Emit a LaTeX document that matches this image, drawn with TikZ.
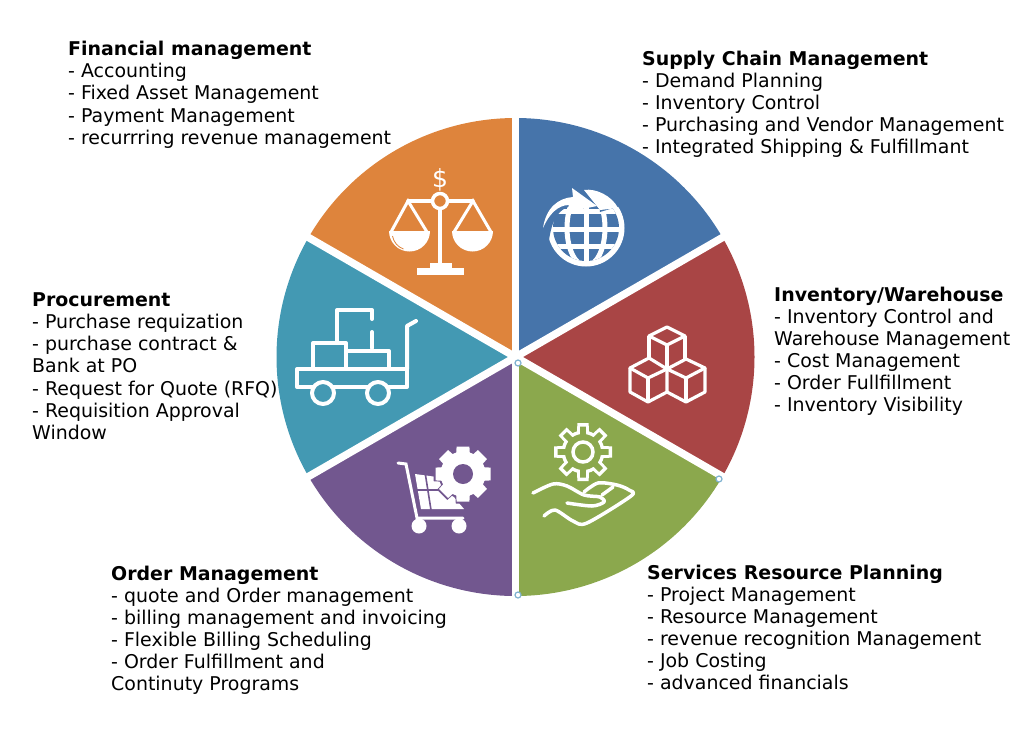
\documentclass[tikz,border=0pt]{standalone}
\usepackage{fontspec}
\setmainfont{DejaVu Sans}
\usepackage{xcolor}
\definecolor{pieorange}{HTML}{DE843C}
\definecolor{pieblue}{HTML}{4674AA}
\definecolor{piered}{HTML}{A94545}
\definecolor{piegreen}{HTML}{8BA84D}
\definecolor{piepurple}{HTML}{72578F}
\definecolor{pieteal}{HTML}{4399B3}
\definecolor{handleblue}{HTML}{7FB2D0}
\tikzset{
  listbox/.style={anchor=north west,align=left,inner sep=0pt,text=black,font=\fontsize{18.95}{22.15}\selectfont},
  iconline/.style={draw=white,line width=4pt,line join=round,line cap=round},
  handle/.style={draw=handleblue,fill=white,line width=1.2pt},
}
% centre, outer radius, tooth half width, body radius, colour
\newcommand{\gearfill}[5]{
  \fill[#5] #1 circle (#4);
  \foreach \a in {0,45,...,315}
    \fill[#5,shift={#1},rotate=\a] (-#3,0) -- (-#3*0.8,#2) -- (#3*0.8,#2) -- (#3,0) -- cycle;
}
\begin{document}
\begin{tikzpicture}[x=1pt,y=1pt,yscale=-1]
\useasboundingbox (0,0) rectangle (1024,736);
\coordinate (c) at (515.5,357);

% pie
\foreach \s/\e/\col in {-150/-90/pieorange,-90/-30/pieblue,-30/30/piered,30/90/piegreen,90/150/piepurple,150/210/pieteal}
  \fill[\col] (c) -- ++(\s:239) arc (\s:\e:239) -- cycle;
\foreach \a in {-90,-30,30,90,150,210}
  \draw[white,line width=7.5pt] (c) -- ++(\a:245);

% scales
\node[text=white,inner sep=0pt,font=\fontsize{25}{25}\selectfont] (dollar) at (440,180) {\$};
\draw[iconline,line width=3.5pt] (408,201) -- (473,201);
\draw[iconline] (440,205) -- (440,265);
\fill[white] (430,263) rectangle (452,270);
\fill[white] (417,268) rectangle (464,275);
\draw[iconline,line width=3.5pt,fill=pieorange] (440,201) circle (7.5);
\draw[white,line width=3pt] (391,232) -- (408,201) -- (427,232);
\draw[white,line width=3pt] (454,232) -- (473,201) -- (491,232);
\fill[white] (389,231) arc (180:0:20.5) -- cycle;
\fill[white] (452,231) arc (180:0:20.5) -- cycle;
\draw[pieorange,line width=0.8pt] (392.5,236) arc (170:110:17);

% globe
\fill[white] (586,228) circle (38.5);
\begin{scope}
  \clip (586,228) circle (33);
  \fill[pieblue] (548,190) rectangle (624,266);
  \draw[white,line width=5pt] (586,190) -- (586,266);
  \draw[white,line width=5pt] (586,228) ellipse (19 and 38);
  \draw[white,line width=5pt] (548,229) -- (624,229);
  \draw[white,line width=5pt] (548,211) -- (624,211);
  \draw[white,line width=5pt] (548,246) -- (624,246);
\end{scope}
\fill[pieblue] (541,236) .. controls (545,208) and (558,192) .. (572,183) -- (596,184) -- (602,198) -- (570,206) .. controls (558,210) and (552,220) .. (549,240) -- cycle;
\fill[pieblue] (597,184) -- (620,206) -- (600,212) -- cycle;
\fill[white] (543,228) .. controls (546,208) and (558,198) .. (573,197) -- (572,188) -- (597,206) -- (567,212) -- (569,205) .. controls (558,205) and (549,214) .. (543,228) -- cycle;
\fill[white] (584,190) .. controls (596,188) and (612,196) .. (618,208) -- (600,210) -- cycle;

% cart
\draw[iconline] (337,343) -- (337,310) -- (372,310) -- (372,319);
\draw[iconline] (372,332) -- (372,348);
\draw[iconline] (313,368) -- (313,343) -- (346,343) -- (346,368);
\draw[iconline] (347,351) -- (389,351) -- (389,368);
\draw[iconline] (297,369) rectangle (407,387);
\draw[iconline] (407,369) -- (407,326) -- (416,321);
\draw[iconline,fill=pieteal] (323,393) circle (11);
\draw[iconline,fill=pieteal] (378,393) circle (11);

% cubes
\tikzset{every path/.style={white,line width=3.2pt,line join=round}}
\draw (667,327) -- (685,336) -- (667,345) -- (649,336) -- cycle;
\draw (649,336) -- (649,358);
\draw (685,336) -- (685,359);
\draw (667,345) -- (667,369);
\draw (649,358) -- (667,369) -- (648,378) -- (630,368) -- cycle;
\draw (630,368) -- (630,392) -- (648,402) -- (667,392) -- (667,369);
\draw (648,378) -- (648,402);
\draw (667,369) -- (686,359) -- (705,368) -- (686,378) -- cycle;
\draw (667,392) -- (686,402) -- (705,392) -- (705,368);
\draw (686,378) -- (686,402);
\tikzset{every path/.style={}}

% gear and hand
\gearfill{(583,452)}{29}{7}{21.5}{white}
\gearfill{(583,452)}{25.5}{3.5}{18}{piegreen}
\draw[white,line width=3.5pt] (583,452) circle (10);
\draw[iconline,line width=3.5pt] plot[smooth,tension=0.5] coordinates {(533,493) (553,484) (567,486) (584,495) (600,497) (604,502) (592,506) (567,503)};
\draw[iconline,line width=3.5pt] plot[smooth,tension=0.5] coordinates {(584,492) (598,483) (617,485) (629,490) (631,496) (587,523) (573,521) (555,510) (544,516)};
\draw[iconline,line width=3.5pt] (602,495) -- (613,487);

% shopping cart
\fill[white] (415,474) -- (437,477) -- (464,509) -- (421,509) -- cycle;
\draw[piepurple,line width=1.6pt] (425,472) -- (431,510);
\draw[piepurple,line width=2.4pt] (414,490) -- (450,490);
\draw[white,line width=3pt,line cap=round] (398,463) -- (406,464) -- (417,518) -- (463,518);
\fill[white] (419,526) circle (7.5);
\fill[white] (459,526) circle (7.5);
\gearfill{(463,474)}{29.5}{9}{24.5}{piepurple}
\gearfill{(463,474)}{27.5}{8}{22.5}{white}
\fill[piepurple] (463,474) circle (10);

% handles
\draw[handle] (518,363) circle (3);
\draw[handle] (719,479) circle (3);
\draw[handle] (518,595) circle (3);

% texts
\node[listbox] (financial) at (68,41) {\textbf{Financial management}\\- Accounting\\- Fixed Asset Management\\- Payment Management\\- recurrring revenue management};
\node[listbox] (supply) at (642,50.5) {\textbf{Supply Chain Management}\\- Demand Planning\\- Inventory Control\\- Purchasing and Vendor Management\\- Integrated Shipping \& Fulfillmant};
\node[listbox] (inventory) at (774,286.5) {\textbf{Inventory/Warehouse}\\- Inventory Control and\\Warehouse Management\\- Cost Management\\- Order Fullfillment\\- Inventory Visibility};
\node[listbox] (procurement) at (32,292.5) {\textbf{Procurement}\\- Purchase requization\\- purchase contract \&\\Bank at PO\\- Request for Quote (RFQ)\\- Requisition Approval\\Window};
\node[listbox] (order) at (111,565.5) {\textbf{Order Management}\\- quote and Order management\\- billing management and invoicing\\- Flexible Billing Scheduling\\- Order Fulfillment and\\Continuty Programs};
\node[listbox] (services) at (647,564.5) {\textbf{Services Resource Planning}\\- Project Management\\- Resource Management\\- revenue recognition Management\\- Job Costing\\- advanced financials};
\end{tikzpicture}
\end{document}
